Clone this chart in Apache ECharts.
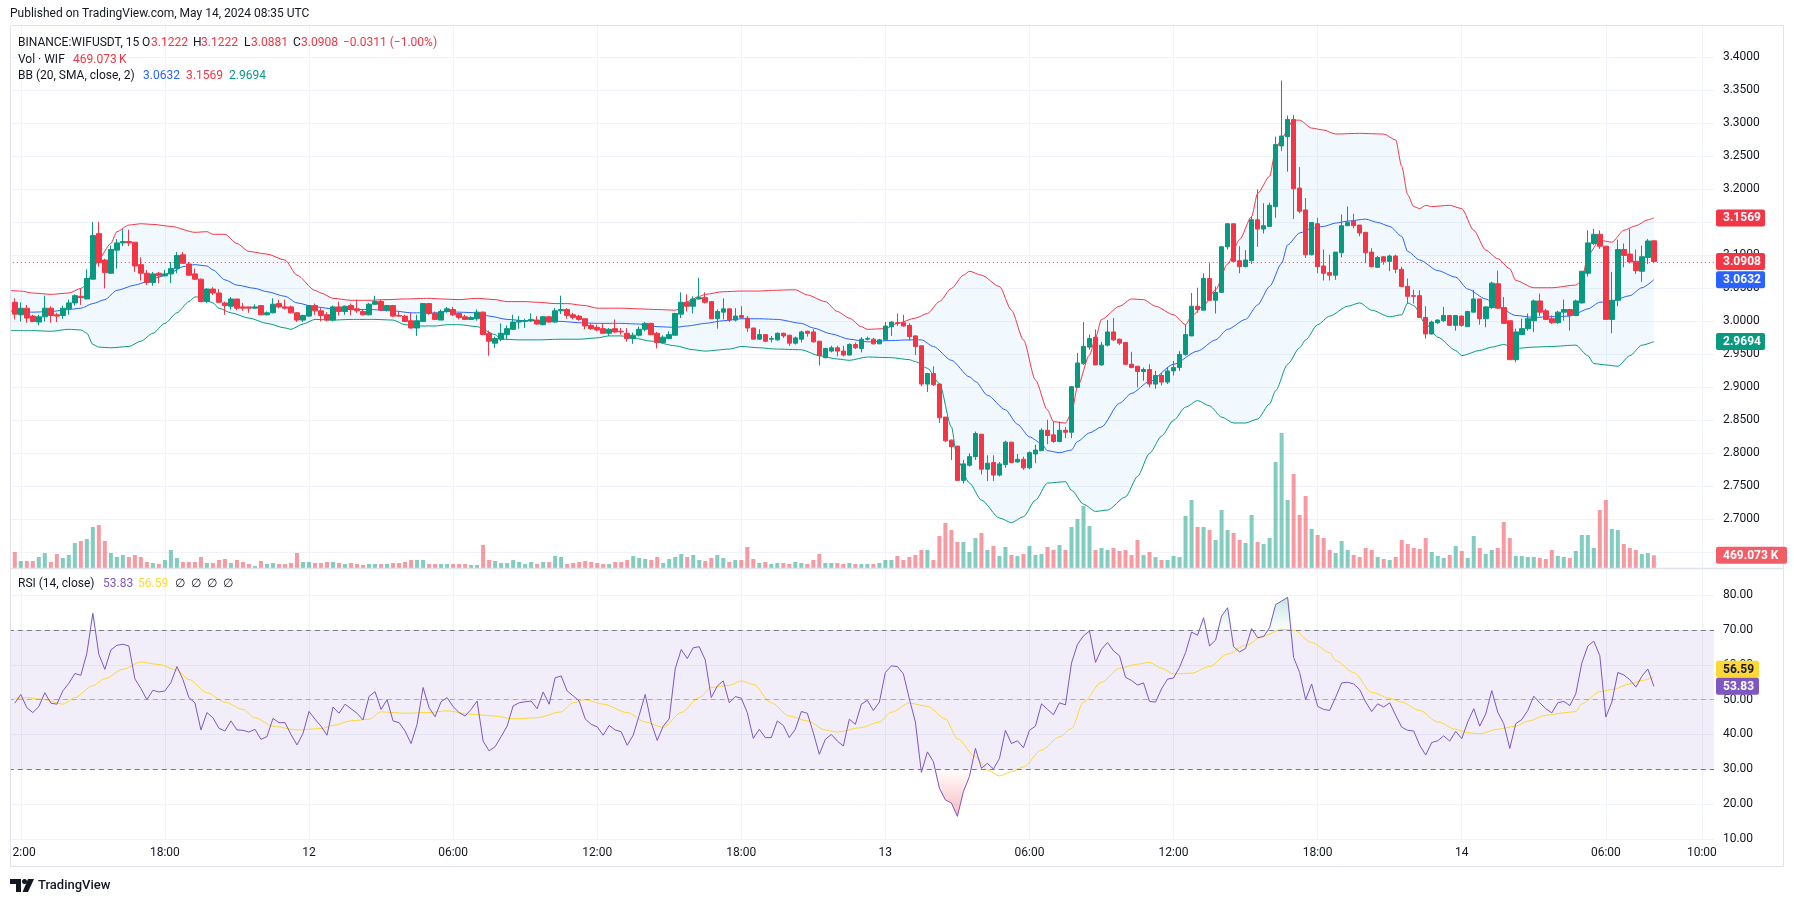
<!DOCTYPE html>
<html><head><meta charset="utf-8">
<script src="https://cdn.jsdelivr.net/npm/echarts@6/dist/echarts.min.js"></script>
<style>html,body{margin:0;padding:0;background:#fff}#c{width:1794px;height:903px}</style>
</head><body><div id="c"></div>
<script>
// candle index 0 = 11 May 12:00, 15-minute bars; first candle is index -1
const FIRST_CANDLE = -1;
const FIRST_CAT = -2;
const N_CAT = 285;
// [open, high, low, close]
const ohlc = [
[3.029,3.035,3.003,3.011],[3.010,3.029,3.000,3.020],[3.020,3.025,2.998,3.005],[3.008,3.010,2.999,3.000],[2.999,3.010,2.994,3.007],
[3.007,3.039,3.000,3.020],[3.020,3.023,2.998,3.009],[3.010,3.013,2.999,3.008],[3.009,3.024,3.004,3.020],[3.019,3.033,3.010,3.028],
[3.028,3.041,3.024,3.039],[3.038,3.050,3.025,3.036],[3.034,3.079,3.034,3.065],[3.064,3.151,3.063,3.130],[3.133,3.151,3.083,3.089],
[3.093,3.095,3.050,3.074],[3.073,3.115,3.072,3.109],[3.108,3.125,3.080,3.119],[3.119,3.140,3.114,3.121],[3.121,3.139,3.114,3.119],
[3.120,3.120,3.075,3.084],[3.086,3.097,3.062,3.073],[3.073,3.078,3.055,3.059],[3.059,3.075,3.054,3.072],[3.073,3.075,3.058,3.069],
[3.069,3.078,3.068,3.072],[3.072,3.090,3.058,3.080],[3.080,3.105,3.073,3.100],[3.101,3.105,3.087,3.088],[3.087,3.090,3.069,3.070],
[3.072,3.080,3.063,3.064],[3.064,3.065,3.029,3.030],[3.030,3.050,3.028,3.049],[3.049,3.052,3.040,3.043],[3.043,3.049,3.028,3.029],
[3.028,3.030,3.010,3.024],[3.023,3.037,3.018,3.034],[3.034,3.034,3.017,3.020],[3.022,3.028,3.016,3.020],[3.022,3.022,3.013,3.020],
[3.020,3.026,3.020,3.022],[3.024,3.024,3.010,3.010],[3.010,3.015,3.009,3.013],[3.013,3.035,3.012,3.026],[3.027,3.033,3.020,3.022],
[3.022,3.033,3.018,3.020],[3.022,3.024,3.012,3.013],[3.013,3.014,2.999,3.002],[3.002,3.010,2.999,3.009],[3.008,3.025,3.007,3.024],
[3.024,3.027,3.010,3.016],[3.016,3.020,3.000,3.009],[3.010,3.014,3.000,3.002],[3.002,3.024,3.000,3.022],[3.022,3.030,3.009,3.015],
[3.015,3.024,3.010,3.023],[3.024,3.027,3.009,3.018],[3.019,3.033,3.013,3.016],[3.015,3.018,3.009,3.010],[3.010,3.028,3.009,3.026],
[3.026,3.039,3.025,3.030],[3.030,3.033,3.016,3.017],[3.017,3.025,3.015,3.024],[3.024,3.025,3.007,3.008],[3.009,3.015,3.007,3.008],
[3.008,3.010,2.999,3.000],[3.001,3.013,2.989,2.990],[2.990,3.010,2.978,3.001],[3.000,3.028,2.999,3.027],[3.027,3.028,3.010,3.012],
[3.012,3.015,3.002,3.003],[3.002,3.018,3.002,3.015],[3.015,3.022,3.013,3.019],[3.018,3.022,3.008,3.010],[3.012,3.013,3.003,3.006],
[3.007,3.010,3.002,3.003],[3.003,3.008,3.002,3.006],[3.004,3.018,3.001,3.014],[3.014,3.015,2.979,2.980],[2.982,2.986,2.948,2.970],
[2.967,2.977,2.960,2.974],[2.973,2.997,2.970,2.982],[2.980,2.994,2.973,2.989],[2.988,3.010,2.987,2.999],[2.999,3.008,2.989,3.001],
[3.000,3.004,2.990,3.001],[3.001,3.012,2.999,3.003],[3.002,3.008,2.995,2.996],[2.995,3.008,2.994,3.007],[3.007,3.008,2.998,2.999],
[2.999,3.020,2.998,3.016],[3.016,3.039,3.011,3.018],[3.018,3.020,3.004,3.009],[3.010,3.013,3.003,3.006],[3.008,3.010,3.001,3.003],
[3.004,3.004,2.988,2.993],[2.994,2.997,2.987,2.989],[2.991,2.995,2.985,2.987],[2.989,2.997,2.982,2.982],[2.982,2.990,2.978,2.988],
[2.989,3.003,2.983,2.984],[2.985,2.990,2.980,2.984],[2.982,2.990,2.969,2.974],[2.974,2.983,2.966,2.979],[2.979,2.992,2.977,2.988],
[2.988,2.999,2.985,2.997],[2.997,2.998,2.979,2.980],[2.982,2.984,2.959,2.968],[2.968,2.979,2.967,2.976],[2.974,2.985,2.973,2.980],
[2.979,3.013,2.979,3.012],[3.011,3.044,3.005,3.029],[3.029,3.041,3.015,3.023],[3.023,3.038,3.012,3.034],[3.034,3.066,3.033,3.036],
[3.036,3.044,3.027,3.029],[3.030,3.030,3.004,3.004],[3.004,3.018,2.989,3.015],[3.014,3.035,3.003,3.019],[3.019,3.020,2.999,3.002],
[3.002,3.020,3.000,3.008],[3.009,3.023,3.004,3.006],[3.005,3.008,2.984,2.990],[2.990,2.990,2.973,2.973],[2.973,2.988,2.972,2.980],
[2.980,2.980,2.969,2.970],[2.973,2.978,2.968,2.974],[2.972,2.983,2.971,2.982],[2.982,2.983,2.975,2.978],[2.979,2.980,2.963,2.967],
[2.967,2.977,2.965,2.975],[2.973,2.986,2.968,2.984],[2.985,2.986,2.977,2.982],[2.984,2.988,2.968,2.969],[2.970,2.970,2.933,2.948],
[2.945,2.960,2.944,2.959],[2.955,2.963,2.953,2.960],[2.960,2.963,2.947,2.955],[2.955,2.963,2.947,2.949],[2.949,2.967,2.948,2.965],
[2.965,2.968,2.958,2.960],[2.959,2.976,2.953,2.973],[2.973,2.977,2.971,2.974],[2.973,2.975,2.965,2.966],[2.966,2.973,2.966,2.972],
[2.972,2.999,2.971,2.993],[2.992,3.000,2.978,2.999],[2.998,3.012,2.993,2.997],[2.998,3.010,2.992,2.993],[2.994,2.997,2.971,2.977],
[2.978,2.979,2.949,2.962],[2.963,2.963,2.902,2.905],[2.905,2.922,2.893,2.921],[2.921,2.932,2.902,2.904],[2.905,2.905,2.846,2.854],
[2.855,2.855,2.817,2.819],[2.820,2.821,2.790,2.810],[2.811,2.811,2.759,2.759],[2.759,2.790,2.754,2.784],[2.782,2.800,2.780,2.795],
[2.795,2.833,2.790,2.830],[2.829,2.829,2.768,2.776],[2.776,2.797,2.758,2.785],[2.786,2.797,2.758,2.767],[2.767,2.787,2.765,2.784],
[2.783,2.819,2.778,2.817],[2.817,2.817,2.785,2.786],[2.787,2.799,2.786,2.791],[2.791,2.795,2.775,2.778],[2.778,2.803,2.776,2.801],
[2.799,2.813,2.785,2.805],[2.804,2.838,2.804,2.835],[2.835,2.851,2.814,2.827],[2.828,2.848,2.816,2.818],[2.818,2.848,2.817,2.835],
[2.835,2.840,2.823,2.832],[2.832,2.902,2.823,2.901],[2.900,2.952,2.900,2.937],[2.936,2.999,2.934,2.962],[2.961,2.980,2.957,2.974],
[2.976,2.988,2.934,2.934],[2.934,2.969,2.933,2.964],[2.964,3.002,2.962,2.984],[2.984,3.005,2.970,2.972],[2.973,2.974,2.964,2.967],
[2.968,2.968,2.934,2.935],[2.935,2.954,2.929,2.930],[2.932,2.932,2.900,2.924],[2.924,2.930,2.910,2.927],[2.927,2.935,2.900,2.905],
[2.905,2.925,2.898,2.918],[2.918,2.922,2.903,2.908],[2.908,2.930,2.905,2.925],[2.925,2.940,2.918,2.930],[2.930,2.955,2.925,2.950],
[2.950,2.995,2.948,2.980],[2.978,3.043,2.978,3.023],[3.023,3.051,3.013,3.018],[3.017,3.073,3.017,3.065],[3.065,3.088,3.032,3.032],
[3.032,3.053,3.012,3.044],[3.044,3.114,3.043,3.113],[3.113,3.149,3.109,3.148],[3.148,3.148,3.091,3.091],[3.092,3.114,3.073,3.083],
[3.083,3.108,3.082,3.093],[3.092,3.159,3.087,3.154],[3.154,3.200,3.113,3.140],[3.140,3.179,3.133,3.145],[3.144,3.180,3.143,3.176],
[3.174,3.280,3.157,3.268],[3.266,3.365,3.258,3.281],[3.280,3.312,3.227,3.306],[3.306,3.313,3.155,3.201],[3.202,3.234,3.164,3.167],
[3.169,3.187,3.096,3.101],[3.101,3.150,3.100,3.150],[3.148,3.157,3.073,3.083],[3.084,3.109,3.062,3.073],[3.074,3.101,3.062,3.070],
[3.070,3.105,3.063,3.105],[3.104,3.162,3.097,3.145],[3.145,3.174,3.145,3.150],[3.152,3.163,3.141,3.145],[3.146,3.146,3.129,3.134],
[3.135,3.135,3.088,3.104],[3.105,3.111,3.082,3.083],[3.082,3.099,3.081,3.097],[3.098,3.099,3.086,3.091],[3.091,3.101,3.076,3.099],
[3.099,3.101,3.073,3.079],[3.079,3.083,3.053,3.053],[3.053,3.065,3.027,3.038],[3.039,3.048,3.027,3.038],[3.039,3.047,3.006,3.006],
[3.006,3.023,2.974,2.981],[2.981,3.001,2.980,2.999],[2.998,3.003,2.996,3.002],[3.001,3.022,2.999,3.009],[3.009,3.009,2.993,2.994],
[2.994,3.009,2.986,3.009],[3.008,3.009,2.992,2.994],[2.992,3.016,2.992,3.015],[3.014,3.048,3.014,3.034],[3.034,3.034,2.995,3.004],
[3.004,3.023,2.991,3.022],[3.021,3.060,3.019,3.058],[3.057,3.077,3.019,3.020],[3.021,3.037,2.997,2.997],[3.001,3.001,2.942,2.942],
[2.942,2.989,2.938,2.984],[2.980,3.004,2.980,2.989],[2.989,3.012,2.986,3.004],[3.001,3.033,2.984,3.031],[3.031,3.042,3.008,3.014],
[3.016,3.019,3.002,3.003],[3.004,3.009,2.996,2.998],[2.998,3.016,2.996,3.014],[3.014,3.033,3.001,3.018],[3.018,3.019,2.986,3.009],
[3.009,3.033,3.008,3.031],[3.028,3.076,3.027,3.076],[3.073,3.138,3.068,3.119],[3.118,3.140,3.116,3.132],[3.132,3.138,3.110,3.114],
[3.114,3.114,3.003,3.003],[3.003,3.075,2.982,3.032],[3.032,3.124,3.023,3.109],[3.109,3.118,3.082,3.100],[3.102,3.140,3.088,3.090],
[3.091,3.109,3.072,3.077],[3.076,3.115,3.060,3.098],[3.097,3.125,3.087,3.1219],[3.1222,3.1222,3.0881,3.0908]
];
// volume in thousands of WIF
const volumeK = [
590,258,258,258,406,554,221,517,369,480,
923,996,1070,1513,1587,996,554,406,480,406,
480,406,221,185,148,295,664,369,221,221,
221,406,185,185,295,332,185,295,221,148,
74,258,148,185,148,148,185,554,221,221,
185,185,221,221,185,148,185,148,111,148,
148,148,148,185,185,221,295,295,295,148,
148,148,148,148,148,148,111,111,849,295,
258,185,185,295,221,148,221,148,221,221,
443,406,148,185,221,258,221,185,148,148,
221,221,295,443,369,332,295,406,185,332,
406,517,406,480,295,258,369,480,369,221,
295,295,775,332,185,221,148,185,185,148,
221,185,148,295,517,185,185,185,148,185,
148,148,148,148,185,295,295,443,295,406,
480,664,664,295,1181,1661,1402,959,959,590,
1107,1292,664,812,443,775,480,443,517,812,
480,517,775,664,849,664,1513,1808,2288,1550,
664,738,664,738,627,664,480,1033,480,590,
406,295,295,443,406,1919,2509,1513,1513,1402,
1033,2140,1402,1292,1033,923,1956,959,886,1107,
3911,4982,2509,3469,1956,2657,1439,1218,1107,664,
554,996,664,480,406,738,664,406,332,295,
406,1033,886,738,701,1107,590,443,369,480,
812,627,369,1181,738,517,664,738,1697,1107,
443,443,406,406,369,332,664,443,406,369,
627,1218,1218,738,2140,2509,1439,1402,886,738,
664,517,554,469.073
];
// RSI(14) per candle
const rsi = [
49,51.5,47.7,46.3,48,52,49,48.7,52.5,54.7,
57.5,57,63.3,74.8,63,58.7,64.3,65.6,65.9,65.4,
56,53.2,50,52.7,52.2,52.5,54.9,59.5,55.8,50.6,
49.1,41.3,46.3,44.8,41.8,41,43.9,41.3,41.2,40.7,
41.5,38.6,39.4,44.6,43.4,43.4,40,37,40.3,46.6,
44.4,42.4,39.8,47.9,46.1,48.7,47.4,46.1,44.2,50.9,
52.3,47.2,50,43.9,43.4,41,37.4,42.9,53.5,47.7,
45.1,49.4,50.6,48,46.3,45.3,47.2,49.6,38.1,35.3,
36.5,39.4,42.4,48.2,49.1,49.4,49.6,47.4,52.2,48.7,
56.3,56.8,52.5,51.1,49.6,44.5,42.9,42.2,39.8,42.6,
41.3,40.8,36.9,39.8,45.5,51.5,43.4,38.3,42.4,44.5,
58.9,64.4,61.8,64.9,65.2,61.4,50.6,53.9,55.4,49.1,
50.9,50.4,46.3,38.9,41.5,39.1,39.1,43.9,42.6,39.1,
41.5,46.6,46.1,40.5,34.3,38.6,40,38.1,36.7,44.4,
42.9,48.7,
49.8,46.9,49.3,57.8,59.7,59.5,57.4,50.2,43.6,29.1,
35,32.2,24.6,21.2,20.3,16.5,23.6,27.9,36,30.3,
31.7,30.1,33.1,41.2,37.4,38.2,36.2,41.2,42.4,48.8,
47.2,45.7,49.1,48.5,60.5,65.9,68.3,69.7,60.7,64.5,
66.4,64,62.6,56.4,55.5,54.2,54.8,49.5,49.3,53.1,
55.9,56.2,59.3,63.5,69.4,68.5,73.5,65.4,67.1,74,
76.4,65.2,63.7,64.7,70.4,67.8,68.1,70.7,77.3,78.3,
79.4,62.1,57.8,50,54.5,48.1,47.2,46.9,50.7,54.8,
55,54.5,52.9,49.3,46.6,48.8,47.9,49.1,45.5,42.1,
41.2,41,36.9,34.1,37.7,38.2,39.6,38.1,40.9,38.8,
43.6,47.4,42.4,45.9,52.6,46.4,43.1,36,43.1,44.3,
46.9,51,49.1,47.4,46.2,49.1,49.5,48.3,51.7,60.5,
65.4,66.8,62.6,45,49.3,57.8,57.1,55.7,53.6,56.7,
58.8,53.83
];
// RSI-based MA, read at sampled candles: [candle index, value]
const rsiMa = [[-1,50.3],[1,50.6],[4,50],[7,48.7],[9,50.6],[12,54],[14,56],[17,58.7],[20,60.8],[23,60.1],[26,58.5],[28,55.8],[31,52],[34,49.3],[37,47.2],[39,44.8],[42,42.4],[46,41.3],[50,41.7],[52,42.6],[55,43.9],[58,44.4],[60,46.5],[64,46.1],[68,46.3],[71,46.8],[75,45.8],[79,45.3],[82,44.5],[86,44.8],[90,46.5],[92,49.1],[94,50],[97,48.7],[101,46.3],[104,43.6],[107,42],[110,46.3],[113,50.6],[115,53.5],[118,54.1],[120,55.4],[122,54.4],[125,49.1],[128,45.3],[131,43.9],[134,41.3],[136,40.7],[140,42],[143,43.6],[145,46.4],[148,49],[151,48.1],[154,44.5],[156,38.8],[159,33.6],[161,29.8],[163,28.1],[165,29.3],[167,30.7],[170,35.5],[173,39.3],[175,41.7],[177,49.3],[180,55],[183,59],[186,60.2],[188,60.7],[190,59],[192,57.4],[195,57.6],[198,59.5],[201,63.1],[204,65.6],[207,68.3],[210,70.2],[212,70],[215,66.4],[218,63.5],[219,61.2],[222,57.8],[225,52.1],[228,50.4],[230,49.3],[233,46.9],[236,43.6],[239,41.5],[241,40.5],[243,40.2],[246,41.5],[249,42.4],[251,43.8],[254,45.5],[257,46.2],[259,46.6],[260,48.8],[263,52.3],[265,52.9],[268,54.5],[270,55.5],[272,56.59]];
// Bollinger Bands (20, 2) read at sampled candles: [candle index, value]
const bbUpper = [[-2,3.047],[0,3.046],[2,3.043],[5,3.041],[8,3.043],[10,3.050],[11,3.056],[12,3.078],[13,3.095],[15,3.118],[16,3.136],[18,3.146],[20,3.148],[22,3.147],[25,3.144],[29,3.135],[31,3.136],[32,3.132],[34,3.132],[36,3.118],[38,3.106],[41,3.102],[44,3.093],[46,3.070],[49,3.047],[50,3.043],[52,3.035],[55,3.032],[58,3.032],[61,3.033],[64,3.034],[68,3.035],[70,3.034],[73,3.033],[76,3.035],[79,3.033],[81,3.030],[84,3.030],[86,3.029],[89,3.027],[91,3.027],[94,3.024],[96,3.020],[100,3.020],[103,3.019],[106,3.018],[109,3.017],[110,3.020],[111,3.030],[113,3.038],[114,3.041],[117,3.045],[120,3.046],[123,3.046],[125,3.047],[129,3.048],[131,3.040],[134,3.030],[136,3.015],[138,3.005],[140,2.992],[141,2.988],[144,2.989],[146,2.997],[149,3.005],[151,3.012],[153,3.030],[155,3.050],[157,3.070],[158,3.076],[160,3.070],[163,3.053],[165,3.017],[167,2.972],[169,2.911],[171,2.866],[172,2.848],[174,2.846],[175,2.861],[176,2.901],[178,2.949],[179,2.975],[180,3.003],[183,3.023],[185,3.034],[187,3.033],[189,3.023],[192,3.010],[194,2.995],[195,3.008],[197,3.024],[199,3.048],[201,3.087],[203,3.124],[205,3.159],[206,3.194],[208,3.220],[209,3.260],[210,3.278],[212,3.305],[213,3.305],[215,3.293],[217,3.290],[219,3.284],[223,3.285],[227,3.284],[229,3.275],[230,3.235],[231,3.192],[232,3.174],[233,3.171],[234,3.176],[235,3.174],[238,3.176],[240,3.171],[242,3.138],[244,3.108],[246,3.095],[248,3.080],[249,3.062],[252,3.051],[255,3.051],[259,3.055],[260,3.062],[261,3.100],[263,3.123],[265,3.120],[267,3.138],[269,3.145],[271,3.154],[272,3.1569]];
const bbBasis = [[-2,3.016],[2,3.014],[5,3.015],[8,3.018],[10,3.020],[12,3.027],[14,3.033],[16,3.047],[19,3.055],[21,3.060],[23,3.067],[25,3.074],[27,3.083],[29,3.086],[31,3.084],[32,3.078],[34,3.063],[36,3.055],[39,3.050],[41,3.045],[44,3.038],[46,3.028],[49,3.022],[52,3.019],[55,3.018],[58,3.018],[62,3.016],[65,3.013],[69,3.013],[71,3.015],[73,3.014],[76,3.013],[78,3.008],[81,3.003],[84,3.001],[87,3.001],[90,3.000],[93,2.998],[96,2.997],[100,2.997],[103,2.996],[106,2.992],[109,2.991],[111,2.993],[114,2.997],[117,3.001],[120,3.004],[123,3.004],[126,3.003],[130,2.997],[132,2.990],[135,2.981],[138,2.973],[141,2.969],[145,2.971],[148,2.972],[150,2.972],[152,2.962],[155,2.941],[158,2.916],[159,2.909],[161,2.888],[164,2.866],[166,2.844],[168,2.825],[170,2.815],[171,2.804],[173,2.801],[175,2.805],[176,2.818],[178,2.831],[180,2.840],[183,2.876],[185,2.891],[188,2.909],[192,2.935],[196,2.955],[199,2.972],[201,2.988],[204,3.003],[206,3.025],[208,3.053],[210,3.088],[211,3.116],[213,3.134],[215,3.141],[217,3.144],[219,3.149],[221,3.152],[224,3.155],[226,3.150],[228,3.144],[230,3.129],[231,3.106],[233,3.093],[236,3.077],[239,3.067],[241,3.049],[244,3.034],[246,3.022],[249,3.009],[252,3.006],[255,3.007],[258,3.008],[259,3.012],[261,3.019],[263,3.029],[265,3.031],[268,3.039],[270,3.051],[272,3.0632]];
const bbLower = [[-2,2.986],[2,2.986],[5,2.985],[8,2.988],[10,2.987],[11,2.982],[12,2.965],[13,2.961],[15,2.960],[18,2.962],[20,2.970],[22,2.982],[24,2.997],[26,3.013],[28,3.030],[29,3.037],[30,3.037],[32,3.028],[33,3.020],[35,3.013],[38,3.005],[41,2.997],[44,2.990],[45,2.988],[47,2.996],[49,3.003],[52,3.002],[55,3.003],[59,3.003],[62,3.002],[64,2.995],[66,2.993],[69,2.993],[71,2.995],[73,2.995],[76,2.992],[79,2.980],[80,2.973],[83,2.972],[86,2.972],[90,2.973],[93,2.973],[96,2.975],[98,2.978],[100,2.978],[102,2.975],[105,2.970],[109,2.963],[112,2.957],[114,2.955],[118,2.958],[120,2.962],[123,2.960],[126,2.958],[130,2.957],[133,2.948],[136,2.943],[138,2.941],[141,2.946],[145,2.945],[148,2.942],[149,2.939],[151,2.929],[153,2.906],[155,2.840],[156,2.790],[158,2.755],[160,2.729],[163,2.702],[165,2.695],[167,2.704],[169,2.729],[171,2.755],[174,2.757],[175,2.744],[177,2.723],[179,2.712],[181,2.714],[184,2.734],[186,2.765],[188,2.800],[190,2.826],[192,2.850],[194,2.870],[196,2.880],[198,2.872],[200,2.855],[202,2.846],[204,2.846],[206,2.852],[208,2.875],[209,2.895],[211,2.935],[213,2.960],[214,2.972],[216,2.995],[218,3.008],[221,3.023],[223,3.028],[225,3.017],[228,3.007],[230,3.010],[231,3.028],[232,3.024],[234,2.996],[236,2.976],[239,2.956],[240,2.948],[243,2.956],[245,2.961],[247,2.965],[249,2.959],[252,2.961],[255,2.962],[259,2.964],[261,2.948],[262,2.936],[264,2.934],[266,2.932],[268,2.948],[270,2.964],[272,2.9694]];
// time axis ticks: [candle index, label]
const tickIdx = [0,24,48,72,96,120,144,168,192,216,240,264,280];
const tickText = ['12:00','18:00','12','06:00','12:00','18:00','13','06:00','12:00','18:00','14','06:00','10:00'];

const UP = '#089981', DOWN = '#F23645';
const FONT = 'Roboto, "Noto Sans", sans-serif';
const chart = echarts.init(document.getElementById('c'), null, {renderer: 'canvas', width: 1794, height: 903});

const off = FIRST_CANDLE - FIRST_CAT;
const cats = Array.from({length: N_CAT}, (_, k) => String(k + FIRST_CAT));
const tickMap = {};
tickIdx.forEach((t, j) => { tickMap[String(t)] = tickText[j]; });
const isTick = (k) => tickMap[String(k + FIRST_CAT)] !== undefined;

const candleData = [];
for (let k = 0; k < off; k++) candleData.push('-');
ohlc.forEach(r => candleData.push([r[0], r[3], r[2], r[1]]));
const volData = [];
for (let k = 0; k < off; k++) volData.push('-');
volumeK.forEach((v, j) => volData.push({value: v, itemStyle: {color: ohlc[j][3] >= ohlc[j][0] ? 'rgba(8,153,129,0.5)' : 'rgba(242,54,69,0.5)'}}));
const toCat = arr => arr.map(p => [p[0] - FIRST_CAT, p[1]]);
const rsiData = rsi.map((v, j) => [j + off, v]);
const rsiHi = rsi.map((v, j) => [j + off, Math.max(v, 70)]);
const rsiLo = rsi.map((v, j) => [j + off, Math.min(v, 30)]);
const upC = toCat(bbUpper), loC = toCat(bbLower);

const GL = 8.8, GR = 80.1;
const grids = [
  {left: GL, right: GR, top: 24.5, height: 560.8},      // price 3.45 -> 2.60
  {left: GL, right: GR, top: 24.5, height: 543.5},      // volume
  {left: GL, right: GR, top: 560.34, height: 278.64}    // RSI 90 -> 10
];
const xBase = {type: 'category', data: cats, boundaryGap: false, axisLine: {show: false}, axisTick: {show: false}};
const gridLine = {color: '#f0f3fa', width: 1};

const option = {
  animation: false,
  backgroundColor: '#ffffff',
  textStyle: {fontFamily: FONT},
  grid: grids,
  xAxis: [
    Object.assign({}, xBase, {gridIndex: 0, axisLabel: {show: false}, splitLine: {show: true, interval: (i) => isTick(i), lineStyle: gridLine}}),
    Object.assign({}, xBase, {gridIndex: 1, axisLabel: {show: false}, splitLine: {show: false}}),
    Object.assign({}, xBase, {gridIndex: 2, axisLabel: {show: true, interval: (i) => isTick(i), formatter: (v) => tickMap[v] || '', color: '#131722', fontSize: 12, margin: 8, fontFamily: FONT}, splitLine: {show: true, interval: (i) => isTick(i), lineStyle: gridLine}})
  ],
  yAxis: [
    {type: 'value', gridIndex: 0, position: 'right', min: 2.6, max: 3.45, interval: 0.05, scale: true,
     axisLine: {show: false}, axisTick: {show: false},
     axisLabel: {formatter: (v) => (v > 2.675 && v < 3.425) ? v.toFixed(4) : '', color: '#131722', fontSize: 12, margin: 9, fontFamily: FONT},
     splitLine: {show: true, showMinLine: false, showMaxLine: false, lineStyle: gridLine}},
    {type: 'value', gridIndex: 1, min: 0, max: 20050, show: false},
    {type: 'value', gridIndex: 2, position: 'right', min: 10, max: 90, interval: 10,
     axisLine: {show: false}, axisTick: {show: false},
     axisLabel: {formatter: (v) => v < 85 ? v.toFixed(2) : '', color: '#131722', fontSize: 12, margin: 9, fontFamily: FONT},
     splitLine: {show: true, showMaxLine: false, lineStyle: gridLine}}
  ],
  series: [
    {type: 'bar', xAxisIndex: 1, yAxisIndex: 1, data: volData, barWidth: 4, z: 1, silent: true},
    {type: 'custom', xAxisIndex: 0, yAxisIndex: 0, data: [[0, 3]], z: 1, silent: true,
     renderItem: function (params, api) {
       const pts = upC.map(p => api.coord(p)).concat(loC.slice().reverse().map(p => api.coord(p)));
       return {type: 'polygon', shape: {points: pts}, style: {fill: 'rgba(33,150,243,0.06)'}};
     }},
    {type: 'line', xAxisIndex: 0, yAxisIndex: 0, data: upC, showSymbol: false, smooth: 0.25, smoothMonotone: 'x', lineStyle: {color: DOWN, width: 1}, z: 3, silent: true},
    {type: 'line', xAxisIndex: 0, yAxisIndex: 0, data: toCat(bbBasis), showSymbol: false, smooth: 0.25, smoothMonotone: 'x', lineStyle: {color: '#2962FF', width: 1}, z: 3, silent: true},
    {type: 'line', xAxisIndex: 0, yAxisIndex: 0, data: loC, showSymbol: false, smooth: 0.25, smoothMonotone: 'x', lineStyle: {color: UP, width: 1}, z: 3, silent: true},
    {type: 'candlestick', xAxisIndex: 0, yAxisIndex: 0, data: candleData, barWidth: 5, z: 4, silent: true,
     itemStyle: {color: UP, color0: DOWN, borderColor: UP, borderColor0: DOWN, borderWidth: 1},
     markLine: {silent: true, symbol: ['none', 'none'], label: {show: false},
       lineStyle: {color: DOWN, type: [1, 3], width: 1},
       data: [{yAxis: ohlc[ohlc.length - 1][3]}]}},
    {type: 'line', xAxisIndex: 2, yAxisIndex: 2, data: rsiHi, showSymbol: false, silent: true, z: 1,
     lineStyle: {width: 0, opacity: 0},
     areaStyle: {origin: 70, color: new echarts.graphic.LinearGradient(0, 0, 0, 1, [{offset: 0, color: 'rgba(8,153,129,0.35)'}, {offset: 1, color: 'rgba(8,153,129,0)'}])}},
    {type: 'line', xAxisIndex: 2, yAxisIndex: 2, data: rsiLo, showSymbol: false, silent: true, z: 1,
     lineStyle: {width: 0, opacity: 0},
     areaStyle: {origin: 30, color: new echarts.graphic.LinearGradient(0, 0, 0, 1, [{offset: 0, color: 'rgba(242,54,69,0)'}, {offset: 1, color: 'rgba(242,54,69,0.5)'}])}},
    {type: 'line', xAxisIndex: 2, yAxisIndex: 2, data: rsiData, showSymbol: false, silent: true, z: 3,
     lineStyle: {color: '#7E57C2', width: 1},
     markArea: {silent: true, itemStyle: {color: 'rgba(126,87,194,0.1)'}, data: [[{yAxis: 30}, {yAxis: 70}]]},
     markLine: {silent: true, symbol: ['none', 'none'], label: {show: false},
       data: [
         {yAxis: 70, lineStyle: {color: '#787B86', type: [5, 4], width: 1}},
         {yAxis: 50, lineStyle: {color: 'rgba(120,123,134,0.55)', type: [5, 4], width: 1}},
         {yAxis: 30, lineStyle: {color: '#787B86', type: [5, 4], width: 1}}
       ]}},
    {type: 'line', xAxisIndex: 2, yAxisIndex: 2, data: toCat(rsiMa), showSymbol: false, silent: true, z: 2, smooth: 0.3, smoothMonotone: 'x',
     lineStyle: {color: '#FDD835', width: 1}}
  ]
};
chart.setOption(option);

// ---------- texts & badges ----------
function txt(x, y, text, color, size, weight) {
  return {type: 'text', z: 50, style: {x: x, y: y, text: text, fill: color || '#131722',
    font: (weight || 'normal') + ' ' + (size || 12) + 'px ' + FONT,
    align: 'left', verticalAlign: 'middle', textAlign: 'left', textVerticalAlign: 'middle'}};
}
function badge(yc, w, text, bg, fg) {
  return [
    {type: 'rect', z: 200, shape: {x: 1716, y: yc - 8.5, width: w, height: 17, r: 2}, style: {fill: bg}},
    {type: 'text', z: 201, style: {x: 1723, y: yc + 0.5, text: text, fill: fg, font: 'bold 12px ' + FONT,
      align: 'left', verticalAlign: 'middle', textAlign: 'left', textVerticalAlign: 'middle'}}
  ];
}
const last = ohlc[ohlc.length - 1];
const prevClose = ohlc[ohlc.length - 2][3];
const bbU = bbUpper[bbUpper.length - 1][1], bbB = bbBasis[bbBasis.length - 1][1], bbL = bbLower[bbLower.length - 1][1];
const volLast = volumeK[volumeK.length - 1];
const rsiLast = rsi[rsi.length - 1], maLast = rsiMa[rsiMa.length - 1][1];
const py = v => chart.convertToPixel({yAxisIndex: 0}, v);
let yMa = chart.convertToPixel({yAxisIndex: 2}, maLast);
let yRsi = chart.convertToPixel({yAxisIndex: 2}, rsiLast);
if (yRsi - yMa < 17) { yMa = yRsi - 17; }
const yVol = chart.convertToPixel({yAxisIndex: 1}, volLast);
const fmt4 = v => v.toFixed(4);
const chg = last[3] - prevClose;

let graphics = [
  // frame and pane separator
  {type: 'rect', z: 60, shape: {x: 0, y: 25, width: 10, height: 842}, style: {fill: '#ffffff'}},
  {type: 'rect', z: 61, shape: {x: 10.5, y: 25.5, width: 1773, height: 841}, style: {fill: 'none', stroke: '#e0e3eb', lineWidth: 1}},
  {type: 'line', z: 61, shape: {x1: 10.5, y1: 568.5, x2: 1783.5, y2: 568.5}, style: {stroke: '#e0e3eb', lineWidth: 1.5}},
  txt(10, 14, 'Published on TradingView.com, May 14, 2024 08:35 UTC', '#131722', 12),
  // legend line 1
  txt(18, 43, 'BINANCE:WIFUSDT, 15', '#131722', 12),
  txt(142, 43, 'O', '#131722', 12), txt(151, 43, fmt4(last[0]), DOWN, 12),
  txt(193, 43, 'H', '#131722', 12), txt(201, 43, fmt4(last[1]), DOWN, 12),
  txt(244, 43, 'L', '#131722', 12), txt(251, 43, fmt4(last[2]), DOWN, 12),
  txt(293, 43, 'C', '#131722', 12), txt(301, 43, fmt4(last[3]), DOWN, 12),
  txt(343, 43, '\u2212' + Math.abs(chg).toFixed(4) + ' (\u2212' + Math.abs(chg / prevClose * 100).toFixed(2) + '%)', DOWN, 12),
  // legend line 2
  txt(18, 59.5, 'Vol \u00b7 WIF', '#131722', 12), txt(73, 59.5, volLast.toFixed(3) + '\u2009K', DOWN, 12),
  // legend line 3
  txt(18, 75.5, 'BB (20, SMA, close, 2)', '#131722', 12),
  txt(143, 75.5, fmt4(bbB), '#2962FF', 12), txt(186, 75.5, fmt4(bbU), DOWN, 12), txt(229, 75.5, fmt4(bbL), UP, 12),
  // RSI legend
  txt(18, 584, 'RSI (14, close)', '#131722', 12),
  txt(103, 584, rsiLast.toFixed(2), '#7E57C2', 12), txt(138, 584, maLast.toFixed(2), '#FDD835', 12),
  txt(175, 584, '\u2205', '#131722', 12), txt(191, 584, '\u2205', '#131722', 12), txt(207, 584, '\u2205', '#131722', 12), txt(223, 584, '\u2205', '#131722', 12),
  // footer logo
  {type: 'polygon', z: 50, shape: {points: [[10, 879], [21, 879], [21, 892], [16, 892], [16, 884], [10, 884]]}, style: {fill: '#131722'}},
  {type: 'circle', z: 50, shape: {cx: 24.5, cy: 881.5, r: 2.5}, style: {fill: '#131722'}},
  {type: 'polygon', z: 50, shape: {points: [[28, 879], [34, 879], [28, 892], [22.5, 892]]}, style: {fill: '#131722'}},
  txt(38, 885.5, 'TradingView', '#131722', 13, '500')
];
graphics = graphics.concat(
  badge(py(bbU), 49, fmt4(bbU), DOWN, '#ffffff'),
  badge(py(last[3]), 49, fmt4(last[3]), DOWN, '#ffffff'),
  badge(py(bbB), 49, fmt4(bbB), '#2962FF', '#ffffff'),
  badge(py(bbL), 49, fmt4(bbL), UP, '#ffffff'),
  badge(yVol, 71, volLast.toFixed(3) + ' K', '#F35D68', '#ffffff'),
  badge(yMa, 43, maLast.toFixed(2), '#FDD835', '#131722'),
  badge(yRsi, 43, rsiLast.toFixed(2), '#7E57C2', '#ffffff')
);
chart.setOption({graphic: graphics});
</script>
</body></html>
